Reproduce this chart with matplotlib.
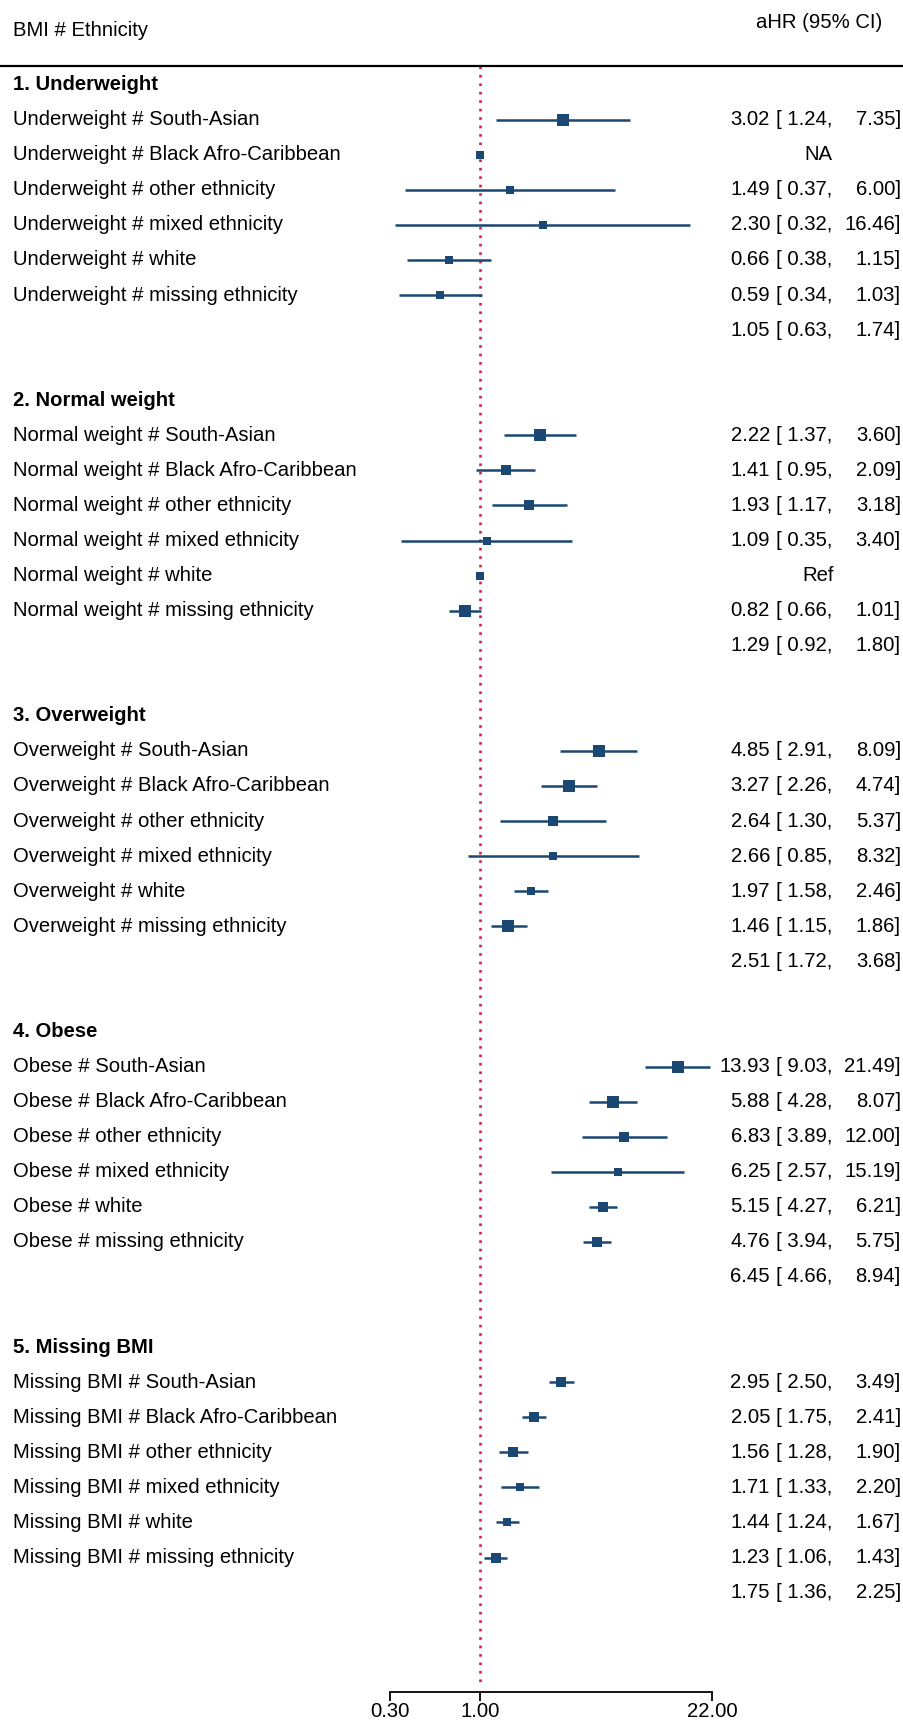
import numpy as np
import matplotlib
matplotlib.use("Agg")
import matplotlib.pyplot as plt
from matplotlib.transforms import blended_transform_factory
from matplotlib.lines import Line2D

plt.rcParams['font.family'] = ['Liberation Sans', 'DejaVu Sans']

# data
groups = ["Underweight", "Normal weight", "Overweight", "Obese", "Missing BMI"]
ethnicities = ["South-Asian", "Black Afro-Caribbean", "other ethnicity",
               "mixed ethnicity", "white", "missing ethnicity"]

hr = [[3.02, 1.00, 1.49, 2.30, 0.66, 0.59],
      [2.22, 1.41, 1.93, 1.09, 1.00, 0.82],
      [4.85, 3.27, 2.64, 2.66, 1.97, 1.46],
      [13.93, 5.88, 6.83, 6.25, 5.15, 4.76],
      [2.95, 2.05, 1.56, 1.71, 1.44, 1.23]]
lo = [[1.24, np.nan, 0.37, 0.32, 0.38, 0.34],
      [1.37, 0.95, 1.17, 0.35, np.nan, 0.66],
      [2.91, 2.26, 1.30, 0.85, 1.58, 1.15],
      [9.03, 4.28, 3.89, 2.57, 4.27, 3.94],
      [2.50, 1.75, 1.28, 1.33, 1.24, 1.06]]
hi = [[7.35, np.nan, 6.00, 16.46, 1.15, 1.03],
      [3.60, 2.09, 3.18, 3.40, np.nan, 1.01],
      [8.09, 4.74, 5.37, 8.32, 2.46, 1.86],
      [21.49, 8.07, 12.00, 15.19, 6.21, 5.75],
      [3.49, 2.41, 1.90, 2.20, 1.67, 1.43]]
notes = {(0, 1): "NA", (1, 4): "Ref"}

overall_hr = [1.05, 1.29, 2.51, 6.45, 1.75]
overall_lo = [0.63, 0.92, 1.72, 4.66, 1.36]
overall_hi = [1.74, 1.80, 3.68, 8.94, 2.25]

# box size (weight) per estimate
box = [[10, 8, 8, 7.5, 8, 8],
       [10, 8.5, 9.5, 8, 8, 10],
       [10, 10, 9, 8, 8, 10],
       [10, 10, 9, 8, 9, 9],
       [9, 9, 9, 8, 8, 9]]

xticks = [0.30, 1.00, 22.00]

W, H = 904, 1722
fig = plt.figure(figsize=(W / 100, H / 100), dpi=100)
ax = fig.add_axes([389.7 / W, (H - 1692) / H, (712 - 389.7) / W, (1692 - 66) / H])
ax.set_xscale('log')
ax.set_xlim(0.3, 22)
row0, step = 84.6, 35.07
ytop = -(row0 - 66) / step
ybot = (1692 - row0) / step
ax.set_ylim(ybot, ytop)

navy = '#1b4872'
red = '#d81e4f'
fs = 14.6
tr = blended_transform_factory(fig.transFigure, ax.transData)

ax.plot([1, 1], [ytop, (1685 - row0) / step], color=red, lw=1.9,
        ls=(0, (1, 2.2)), zorder=1, clip_on=False)

def value_text(r, est, l, u):
    ax.text(770 / W, r, f"{est:.2f}", transform=tr, ha='right', va='center', fontsize=fs)
    ax.text(776.5 / W, r, f"[ {l:.2f},", transform=tr, ha='left', va='center', fontsize=fs)
    ax.text(901 / W, r, f"{u:.2f}]", transform=tr, ha='right', va='center', fontsize=fs)

for g, gname in enumerate(groups):
    base = g * 9
    ax.text(13 / W, base, f"{g + 1}. {gname}", transform=tr, ha='left', va='center',
            fontsize=fs, fontweight='bold')
    for i, eth in enumerate(ethnicities):
        r = base + 1 + i
        ax.text(13 / W, r, f"{gname} # {eth}", transform=tr, ha='left', va='center', fontsize=fs)
        if not np.isnan(lo[g][i]):
            ax.plot([lo[g][i], hi[g][i]], [r, r], color=navy, lw=1.8, zorder=2,
                    solid_capstyle='butt', clip_on=False)
        ax.plot(hr[g][i], r, marker='s', color=navy, ms=box[g][i] * 0.8, mew=0, zorder=3)
        if (g, i) in notes:
            ax.text(818 / W, r, notes[(g, i)], transform=tr, ha='center', va='center', fontsize=fs)
        else:
            value_text(r, hr[g][i], lo[g][i], hi[g][i])
    value_text(base + 7, overall_hr[g], overall_lo[g], overall_hi[g])

# header
fig.text(13 / W, 1 - 30 / H, "BMI # Ethnicity", ha='left', va='center', fontsize=fs)
fig.text(819 / W, 1 - 22 / H, "aHR (95% CI)", ha='center', va='center', fontsize=fs)
fig.add_artist(Line2D([0, 1], [1 - 66 / H, 1 - 66 / H], color='black', lw=1.6,
                      transform=fig.transFigure))

for s in ['top', 'left', 'right']:
    ax.spines[s].set_visible(False)
ax.spines['bottom'].set_linewidth(1.3)
ax.set_yticks([])
ax.set_xticks(xticks)
ax.set_xticklabels([f"{t:.2f}" for t in xticks], fontsize=fs)
ax.xaxis.set_minor_locator(matplotlib.ticker.NullLocator())
ax.tick_params(axis='x', direction='out', length=6.5, width=1.3, pad=0.5)

fig.savefig('out.png', dpi=100)
